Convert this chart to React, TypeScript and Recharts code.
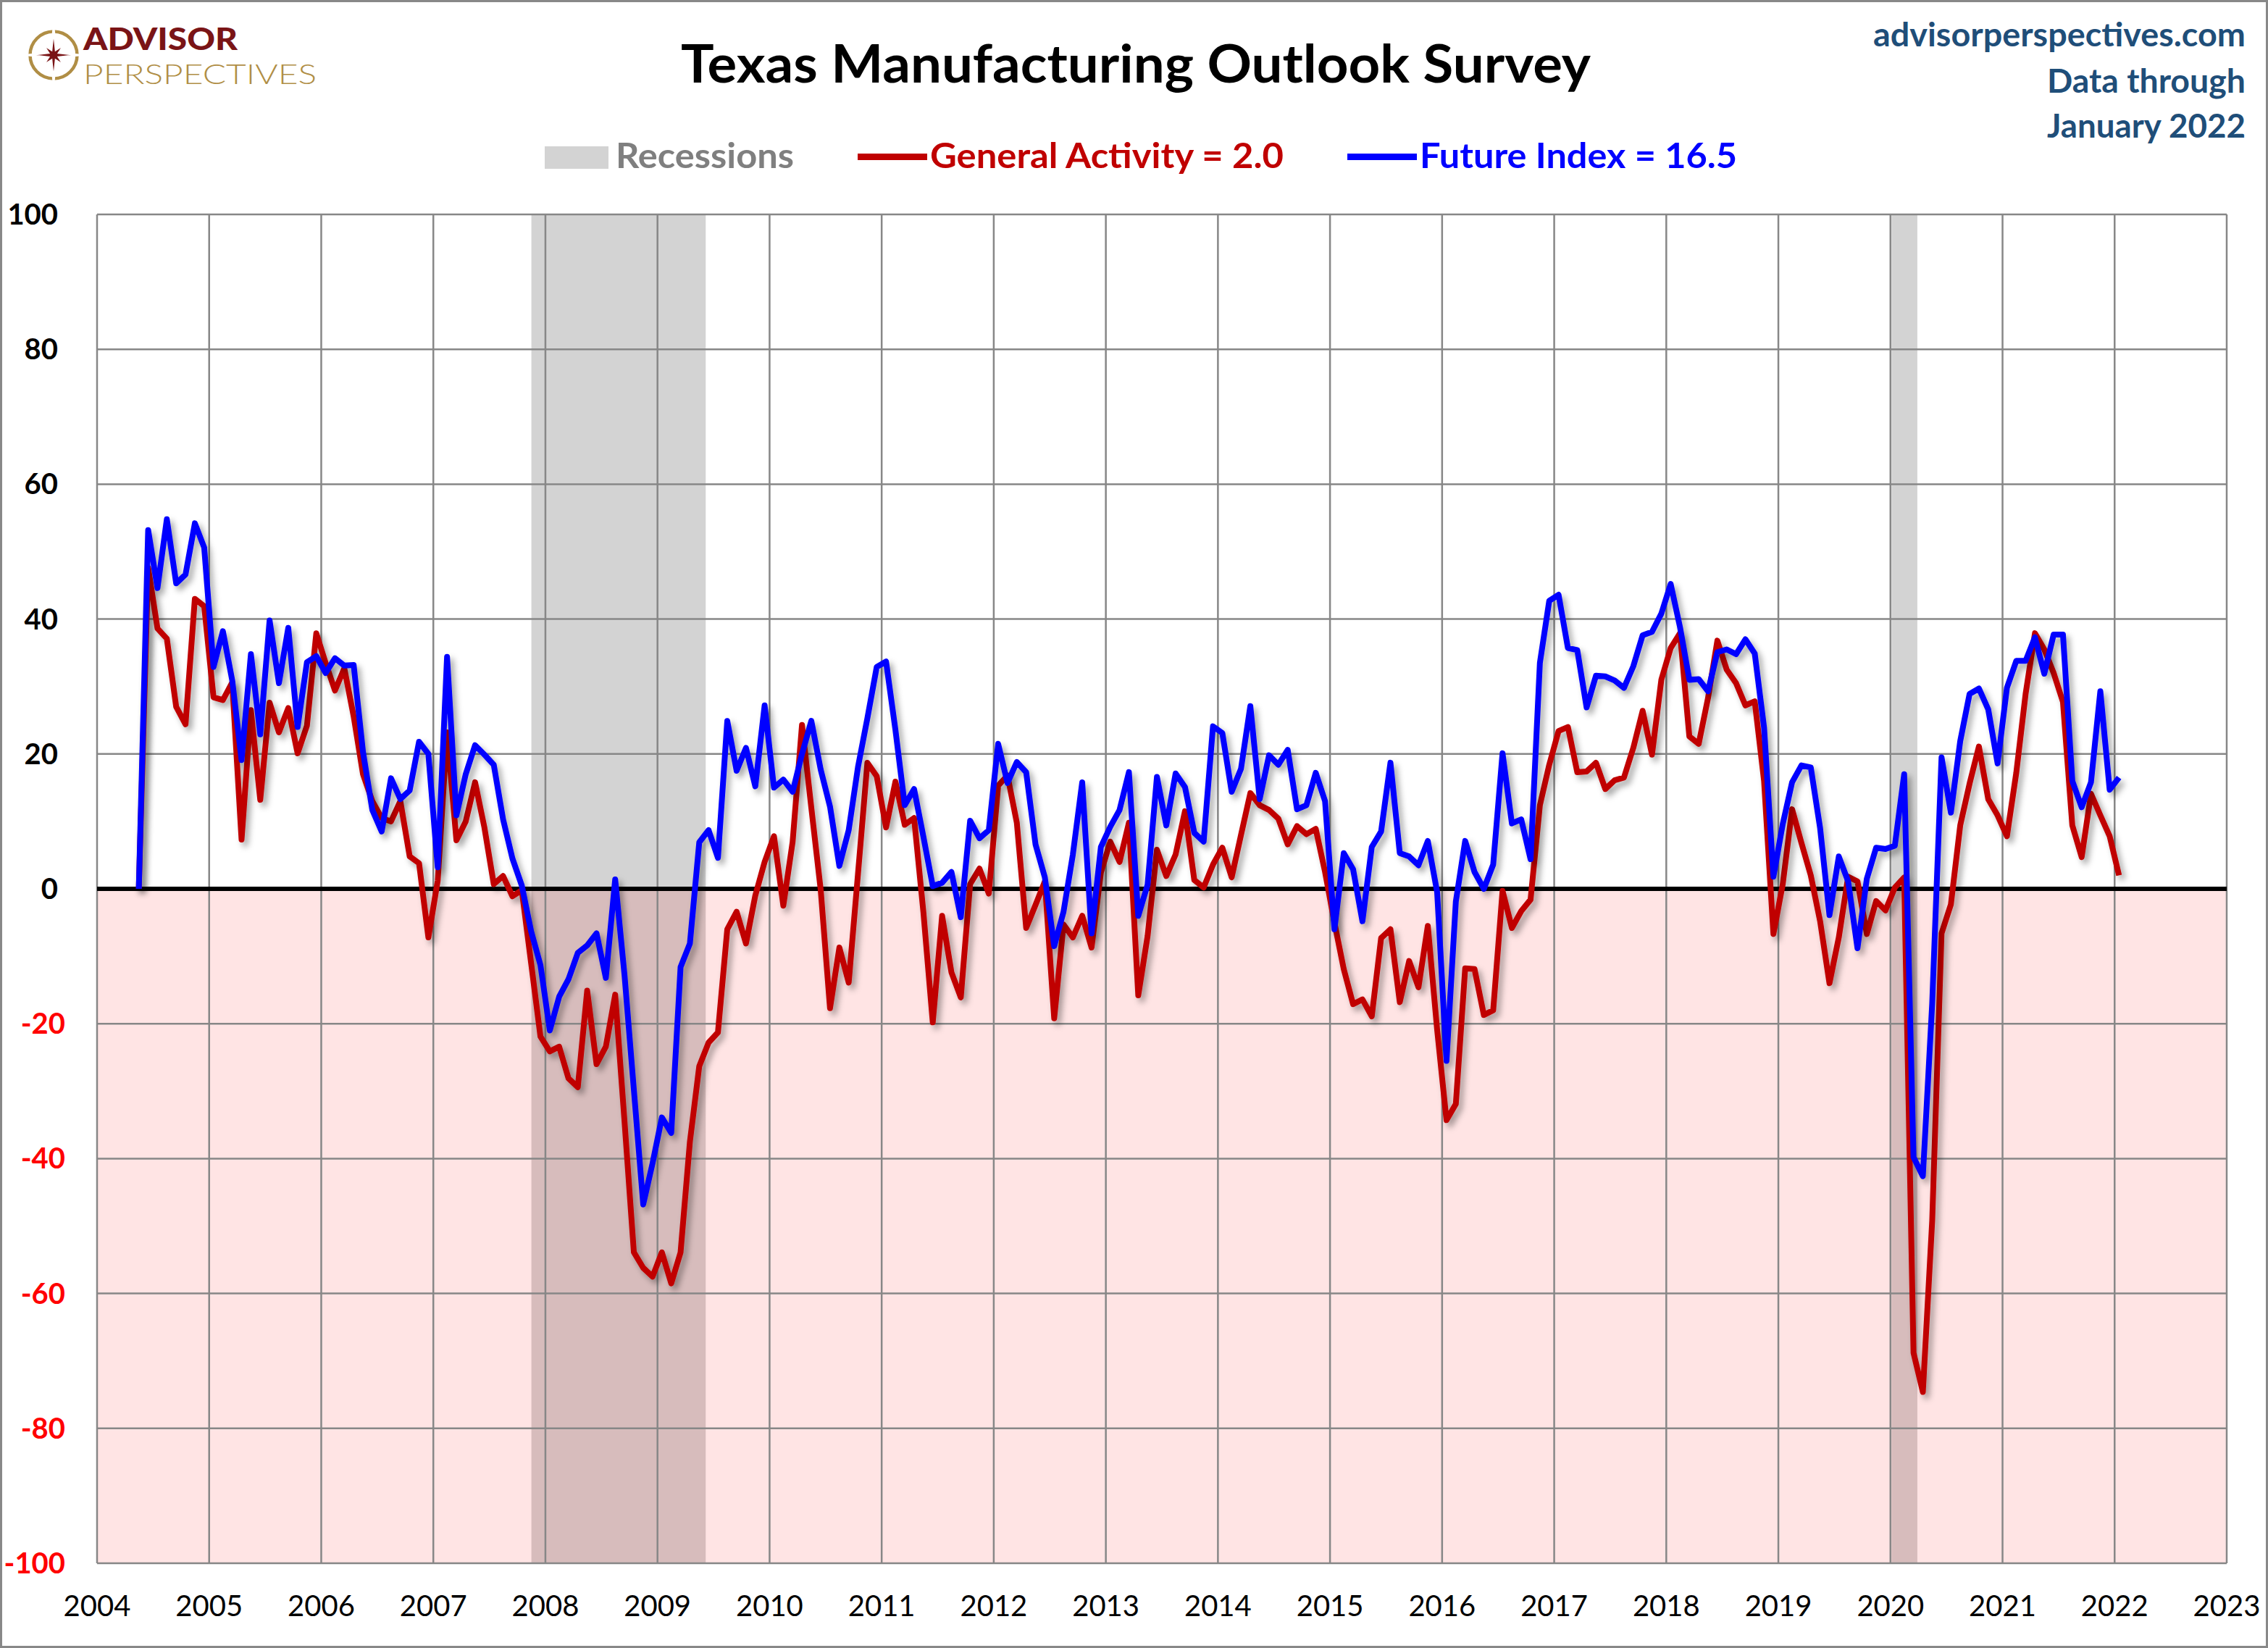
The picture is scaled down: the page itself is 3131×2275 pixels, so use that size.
import React from 'react';
import { LineChart, Line, XAxis, YAxis, CartesianGrid, ReferenceArea, ReferenceLine } from 'recharts';

// monthly readings, first value = May 2004
const START_YEAR = 2004;
const START_MONTH = 4;

const generalActivity = [
  // 2004
  0, 47.6, 38.6, 37.1, 27.0, 24.4, 43.0, 41.9,
  // 2005
  28.4, 28.0, 30.6, 7.3, 26.5, 13.2, 27.6, 23.2, 26.8, 20.1, 24.2, 37.9,
  // 2006
  33.5, 29.4, 32.7, 25.6, 17.0, 13.0, 10.5, 10.0, 13.0, 4.8, 3.8, -7.2,
  // 2007
  1.2, 23.2, 7.2, 10.0, 15.8, 9.1, 0.7, 1.9, -1.1, -0.2, -11.0, -21.9,
  // 2008
  -24.1, -23.4, -28.1, -29.4, -15.1, -26.0, -23.4, -15.7, -34.5, -53.9, -56.2, -57.5,
  // 2009
  -53.9, -58.5, -53.9, -37.5, -26.3, -22.8, -21.3, -6.0, -3.4, -8.1, -1.0, 4.0,
  // 2010
  7.8, -2.5, 7.0, 24.3, 12.0, -0.1, -17.7, -8.7, -13.9, 2.3, 18.7, 16.7,
  // 2011
  9.1, 15.9, 9.5, 10.5, -3.5, -19.8, -4.0, -12.4, -16.1, 0.7, 3.0, -0.7,
  // 2012
  15.3, 16.8, 9.8, -5.8, -2.4, 1.1, -19.2, -5.3, -7.2, -4.0, -8.7, 2.4,
  // 2013
  7.0, 4.0, 9.8, -15.8, -7.0, 5.8, 1.9, 5.1, 11.5, 1.3, 0.2, 3.6,
  // 2014
  6.1, 1.7, 8.0, 14.2, 12.4, 11.7, 10.4, 6.6, 9.3, 8.1, 8.9, 2.5,
  // 2015
  -5.0, -11.9, -17.1, -16.4, -18.9, -7.3, -6.0, -16.8, -10.7, -14.6, -5.5, -20.9,
  // 2016
  -34.3, -31.9, -11.8, -11.9, -18.7, -18.0, -0.3, -5.8, -3.3, -1.6, 12.4, 18.4,
  // 2017
  23.4, 24.0, 17.3, 17.4, 18.7, 14.8, 16.1, 16.5, 20.9, 26.4, 19.9, 31.0,
  // 2018
  35.7, 37.9, 22.6, 21.5, 28.3, 36.8, 32.5, 30.5, 27.2, 27.8, 16.0, -6.7,
  // 2019
  0.7, 11.8, 6.8, 2.0, -4.8, -14.0, -7.2, 1.8, 1.1, -6.7, -1.8, -3.2,
  // 2020
  0.2, 1.7, -68.8, -74.6, -49.2, -6.6, -2.3, 9.4, 15.6, 21.1, 13.3, 10.9,
  // 2021
  7.8, 17.2, 28.9, 37.9, 35.5, 32.0, 27.7, 9.4, 4.7, 14.1, 10.9, 7.8,
  // 2022
  2.0,
];

const futureIndex = [
  // 2004
  0, 53.2, 44.6, 54.8, 45.3, 46.6, 54.2, 50.6,
  // 2005
  32.9, 38.2, 30.9, 19.1, 34.8, 22.9, 39.8, 30.5, 38.7, 24.0, 33.6, 34.5,
  // 2006
  32.0, 34.2, 33.1, 33.2, 20.3, 11.7, 8.5, 16.4, 13.3, 14.6, 21.8, 20.0,
  // 2007
  3.2, 34.4, 10.9, 17.0, 21.3, 19.9, 18.4, 10.3, 4.5, 0.5, -6.3, -11.3,
  // 2008
  -21.0, -16.0, -13.4, -9.5, -8.4, -6.6, -13.2, 1.4, -12.8, -29.8, -46.8, -40.7,
  // 2009
  -33.9, -36.2, -11.6, -8.1, 6.9, 8.7, 4.6, 24.9, 17.5, 20.9, 15.2, 27.2,
  // 2010
  15.0, 16.2, 14.4, 20.0, 24.9, 17.7, 12.2, 3.4, 8.7, 18.1, 25.3, 32.9,
  // 2011
  33.7, 23.6, 12.4, 14.8, 7.7, 0.4, 0.9, 2.5, -4.2, 10.1, 7.5, 8.7,
  // 2012
  21.5, 15.7, 18.8, 17.3, 6.6, 1.7, -8.5, -3.4, 5.1, 15.8, -6.6, 6.2,
  // 2013
  9.2, 11.7, 17.3, -4.0, 0.6, 16.6, 9.4, 17.1, 15.1, 8.3, 7.0, 24.1,
  // 2014
  23.1, 14.4, 17.8, 27.1, 13.3, 19.8, 18.4, 20.6, 11.8, 12.4, 17.2, 13.0,
  // 2015
  -6.0, 5.3, 2.9, -4.8, 6.2, 8.5, 18.7, 5.3, 4.8, 3.5, 7.1, -0.5,
  // 2016
  -25.5, -1.9, 7.1, 2.5, 0.0, 3.6, 20.1, 9.7, 10.3, 4.4, 33.5, 42.7,
  // 2017
  43.6, 35.7, 35.4, 26.9, 31.6, 31.5, 30.9, 29.8, 33.0, 37.6, 38.1, 40.8,
  // 2018
  45.2, 38.8, 31.0, 31.1, 29.3, 35.1, 35.5, 34.8, 37.0, 34.9, 23.9, 1.8,
  // 2019
  9.6, 15.8, 18.3, 18.0, 9.0, -3.9, 4.8, 1.1, -8.8, 1.5, 6.1, 5.9,
  // 2020
  6.4, 17.0, -39.8, -42.6, -17.0, 19.5, 11.3, 21.9, 28.9, 29.7, 26.6, 18.6,
  // 2021
  29.8, 33.8, 33.8, 37.3, 31.9, 37.7, 37.7, 16.0, 12.1, 15.8, 29.3, 14.7,
  // 2022
  16.5,
];

const yearTicks = [
  2004, 2005, 2006, 2007, 2008, 2009, 2010, 2011, 2012, 2013,
  2014, 2015, 2016, 2017, 2018, 2019, 2020, 2021, 2022, 2023,
];
const valueTicks = [-100, -80, -60, -40, -20, 0, 20, 40, 60, 80, 100];

// NBER recessions, in fractional years
const recessions = [
  { from: 2007.875, to: 2009.43 },
  { from: 2020.01, to: 2020.24 },
];

const FONT = "Lato, 'Open Sans', sans-serif";
const W = 3131;
const H = 2275;

// points sit mid-month on the date axis
const data = generalActivity.map((v, i) => ({
  t: START_YEAR + (START_MONTH + i + 0.47) / 12,
  general: v,
  future: futureIndex[i],
}));

const lastGeneral = generalActivity[generalActivity.length - 1].toFixed(1);
const lastFuture = futureIndex[futureIndex.length - 1].toFixed(1);

// negatives in red; positives sit a little further left (excel number format)
const YTick = ({ x, y, payload }: any) => (
  <text
    x={payload.value < 0 ? x : x - 10}
    y={y}
    dy={14}
    textAnchor="end"
    fontFamily={FONT}
    fontWeight={700}
    fontSize={40}
    fill={payload.value < 0 ? '#FF0000' : '#000000'}
  >
    {payload.value}
  </text>
);

// compass star for the logo
const starPoints = Array.from({ length: 16 }, (_, k) => {
  const ang = (k * Math.PI) / 8;
  let r = 8;
  if (k % 2 === 0) {
    const tip = k / 2;
    if (tip === 0 || tip === 4) r = 37;
    else if (tip === 2 || tip === 6) r = 35;
    else r = 21;
  }
  return `${(74 + r * Math.sin(ang)).toFixed(1)},${(76 - r * Math.cos(ang)).toFixed(1)}`;
}).join(' ');

const Header = () => (
  <svg
    width={W}
    height={H}
    style={{ position: 'absolute', left: 0, top: 0, pointerEvents: 'none' }}
  >
    {/* logo */}
    <circle cx={74} cy={76} r={32.5} fill="none" stroke="#B08E45" strokeWidth={4.5} />
    <polygon points={starPoints} fill="#7A1416" stroke="#ffffff" strokeWidth={3} />
    <text x={115} y={69} textLength={213} lengthAdjust="spacingAndGlyphs"
      fontFamily={FONT} fontWeight={900} fontSize={42} fill="#7A1416">
      ADVISOR
    </text>
    <text x={115} y={116} textLength={322} lengthAdjust="spacingAndGlyphs"
      fontFamily={FONT} fontWeight={300} fontSize={38} fill="#B08E45">
      PERSPECTIVES
    </text>

    <text x={940} y={114} textLength={1256} lengthAdjust="spacingAndGlyphs"
      fontFamily={FONT} fontWeight={700} fontSize={72} fill="#000">
      Texas Manufacturing Outlook Survey
    </text>

    {/* legend */}
    <rect x={752} y={202} width={88} height={31} fill="#D3D3D3" />
    <text x={850} y={232} textLength={246} lengthAdjust="spacingAndGlyphs"
      fontFamily={FONT} fontWeight={700} fontSize={47} fill="#7F7F7F">
      Recessions
    </text>
    <rect x={1184} y={212} width={96} height={9} fill="#C00000" />
    <text x={1284} y={232} textLength={488} lengthAdjust="spacingAndGlyphs"
      fontFamily={FONT} fontWeight={700} fontSize={47} fill="#C00000">
      {`General Activity = ${lastGeneral}`}
    </text>
    <rect x={1860} y={212} width={96} height={9} fill="#0000FF" />
    <text x={1960} y={232} textLength={438} lengthAdjust="spacingAndGlyphs"
      fontFamily={FONT} fontWeight={700} fontSize={47} fill="#0000FF">
      {`Future Index = ${lastFuture}`}
    </text>

    <g fontFamily={FONT} fontWeight={700} fontSize={45} fill="#1F4E79">
      <text x={2586} y={64} textLength={514} lengthAdjust="spacingAndGlyphs">advisorperspectives.com</text>
      <text x={2826} y={128} textLength={274} lengthAdjust="spacingAndGlyphs">Data through</text>
      <text x={2826} y={190} textLength={274} lengthAdjust="spacingAndGlyphs">January 2022</text>
    </g>

    <rect x={1.5} y={1.5} width={W - 3} height={H - 3} fill="none" stroke="#888888" strokeWidth={3} />
  </svg>
);

const App = () => {
  return (
    <div style={{ position: 'absolute', left: 0, top: 0, width: W, height: H, background: '#fff' }}>
      <style>{'.recharts-line-curve { filter: url(#lineShadow); }'}</style>
      <LineChart width={W} height={H} data={data} margin={{ top: 296, right: 57, bottom: 37, left: 0 }}>
        <defs>
          <filter id="lineShadow" x="-5%" y="-5%" width="110%" height="110%">
            <feDropShadow dx={5} dy={6} stdDeviation={4} floodColor="#000" floodOpacity={0.35} />
          </filter>
        </defs>
        <XAxis
          type="number"
          dataKey="t"
          domain={[2004, 2023]}
          ticks={yearTicks}
          interval={0}
          allowDataOverflow
          axisLine={false}
          tickLine={false}
          tickSize={0}
          tickMargin={45}
          height={80}
          tick={{ fontSize: 40, fill: '#000', fontFamily: FONT }}
        />
        <YAxis
          type="number"
          domain={[-100, 100]}
          ticks={valueTicks}
          interval={0}
          allowDataOverflow
          axisLine={false}
          tickLine={false}
          tickSize={0}
          tickMargin={44}
          width={134}
          tick={<YTick />}
        />
        {recessions.map((r) => (
          <ReferenceArea
            key={r.from}
            x1={r.from}
            x2={r.to}
            fill="#D3D3D3"
            fillOpacity={1}
            stroke="none"
            ifOverflow="hidden"
            zIndex={-300}
          />
        ))}
        <ReferenceArea y1={-100} y2={0} fill="#FF0000" fillOpacity={0.105} stroke="none" zIndex={-250} />
        <CartesianGrid stroke="#878787" strokeWidth={2.5} zIndex={-200} />
        <ReferenceLine y={0} stroke="#000" strokeWidth={6} zIndex={-150} />
        <Line
          type="linear"
          dataKey="general"
          stroke="#C00000"
          strokeWidth={8}
          strokeLinejoin="round"
          dot={false}
          isAnimationActive={false}
        />
        <Line
          type="linear"
          dataKey="future"
          stroke="#0000FF"
          strokeWidth={8}
          strokeLinejoin="round"
          dot={false}
          isAnimationActive={false}
        />
      </LineChart>
      <Header />
    </div>
  );
};

export default App;
